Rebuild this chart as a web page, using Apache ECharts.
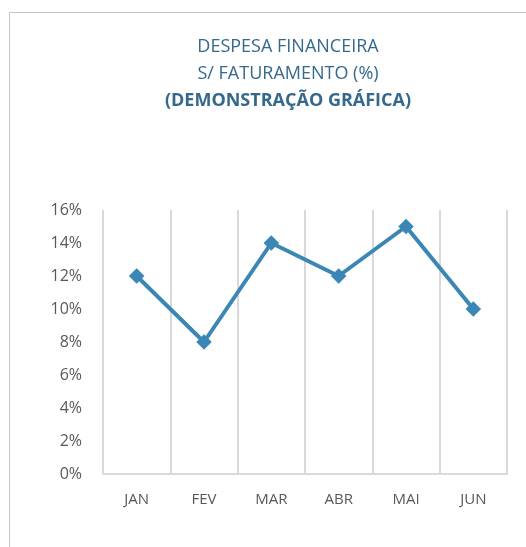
<!DOCTYPE html>
<html>
<head>
<meta charset="utf-8">
<script src="https://cdn.jsdelivr.net/npm/echarts@6/dist/echarts.min.js"></script>
<style>
  html, body { margin: 0; padding: 0; background: #fff; }
  #chart { width: 526px; height: 547px; }
</style>
</head>
<body>
<div id="chart"></div>
<script>
var months = ['JAN', 'FEV', 'MAR', 'ABR', 'MAI', 'JUN'];
var despesa = [12, 8, 14, 12, 15, 10];
var titleLines = ['DESPESA FINANCEIRA', 'S/ FATURAMENTO (%)', '(DEMONSTRAÇÃO GRÁFICA)'];

var myChart = echarts.init(document.getElementById('chart'));

var option = {
    backgroundColor: '#fff',
    animation: false,
    graphic: [
        {
            type: 'rect',
            shape: { x: 9.5, y: 12.5, width: 600, height: 600 },
            style: { fill: 'none', stroke: '#c4c4c4', lineWidth: 1 }
        },
        {
            type: 'text', x: 288, y: 47,
            style: { text: titleLines[0], fill: '#35698c', font: '18px "Open Sans"', align: 'center', verticalAlign: 'middle' }
        },
        {
            type: 'text', x: 288, y: 74,
            style: { text: titleLines[1], fill: '#35698c', font: '18px "Open Sans"', align: 'center', verticalAlign: 'middle' }
        },
        {
            type: 'text', x: 288, y: 101,
            style: { text: titleLines[2], fill: '#35698c', font: 'bold 18px "Open Sans"', align: 'center', verticalAlign: 'middle' }
        }
    ],
    grid: { left: 103, right: 19, top: 210, bottom: 73 },
    xAxis: {
        type: 'category',
        data: months,
        boundaryGap: true,
        axisLine: { lineStyle: { color: '#d9d9d9', width: 2 } },
        axisTick: { show: false },
        splitLine: { show: true, lineStyle: { color: '#d9d9d9', width: 2 } },
        axisLabel: { color: '#595959', fontSize: 15, fontFamily: 'Open Sans', margin: 18 }
    },
    yAxis: {
        type: 'value',
        min: 0,
        max: 16,
        interval: 2,
        axisLine: { show: false },
        axisTick: { show: false },
        splitLine: { show: false },
        axisLabel: { formatter: '{value}%', color: '#595959', fontSize: 16, fontFamily: 'Open Sans', margin: 21 }
    },
    series: [{
        name: 'Despesa',
        type: 'line',
        data: despesa,
        symbol: 'rect',
        symbolSize: 11,
        symbolRotate: 45,
        lineStyle: { color: '#3a87b5', width: 4 },
        itemStyle: { color: '#3a87b5' }
    }]
};

myChart.setOption(option);
</script>
</body>
</html>
